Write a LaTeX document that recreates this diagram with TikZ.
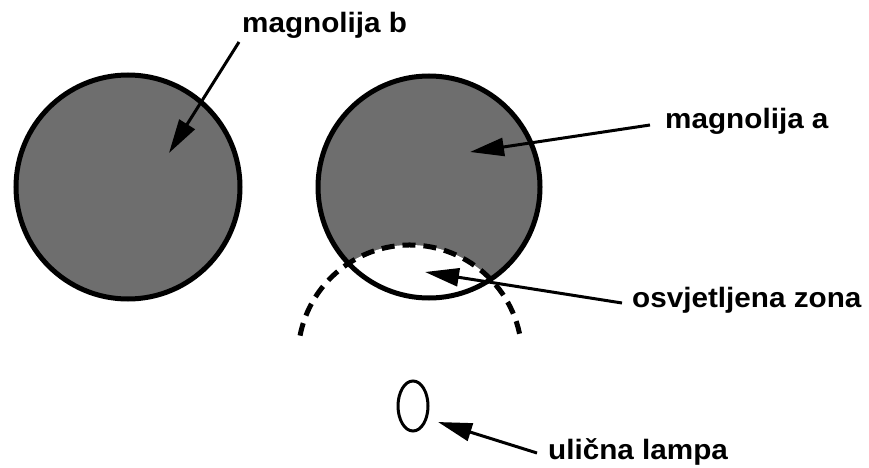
\documentclass[tikz,border=0pt]{standalone}
\usepackage{fontspec}
\newfontfamily\labelfont{Liberation Sans}
\usetikzlibrary{arrows.meta,shapes.geometric}
\definecolor{magGrey}{HTML}{6E6E6E}
\newcommand{\widetext}[1]{\scalebox{1.06}[1]{#1}}

\begin{document}
\begin{tikzpicture}[x=1pt,y=1pt,
  lbl/.style={font=\labelfont\bfseries\fontsize{28}{32}\selectfont, inner sep=0pt, anchor=base west},
  crown/.style={draw=black, line width=5pt},
  arr/.style={line width=3pt, -{Triangle[length=34pt,width=18pt]}}]
  \useasboundingbox (0,0) rectangle (869,467);
  % the two crowns
  \fill[magGrey] (128,280) circle (112pt);
  \fill[magGrey] (429,280) circle (111pt);
  % lit part of magnolija a
  \begin{scope}
    \clip (429,280) circle (111pt);
    \fill[white] (410,110) circle (112pt);
  \end{scope}
  \draw[crown] (128,280) circle (112pt);
  \draw[crown] (429,280) circle (111pt);
  % light cone of the lamp
  \draw[line width=5pt, dash pattern=on 13pt off 8pt] ([shift={(12:112pt)}]410,110) arc[start angle=12, end angle=169, radius=112pt];
  % street lamp
  \node[draw, ellipse, line width=3pt, minimum width=30pt, minimum height=50pt, inner sep=0pt] (lamp) at (413,61) {};
  % labels
  \node[lbl] (lblB) at (242,434) {\widetext{magnolija b}};
  \node[lbl] (lblA) at (665,339) {\widetext{magnolija a}};
  \node[lbl] (lblZ) at (632,160) {\widetext{osvjetljena zona}};
  \node[lbl] (lblL) at (548,8) {\widetext{ulična lampa}};
  \coordinate (tipB) at (169,314);
  \coordinate (tipA) at (470,315);
  \coordinate (tipZ) at (425,195);
  \coordinate (tipL) at (438,45);
  % pointers
  \draw[arr] ([shift={(-3pt,-9pt)}]lblB.base west) -- (tipB);
  \draw[arr] ([shift={(-15pt,3pt)}]lblA.base west) -- (tipA);
  \draw[arr] ([shift={(-10pt,4pt)}]lblZ.base west) -- (tipZ);
  \draw[arr] ([shift={(-11pt,6pt)}]lblL.base west) -- (tipL);
\end{tikzpicture}
\end{document}
